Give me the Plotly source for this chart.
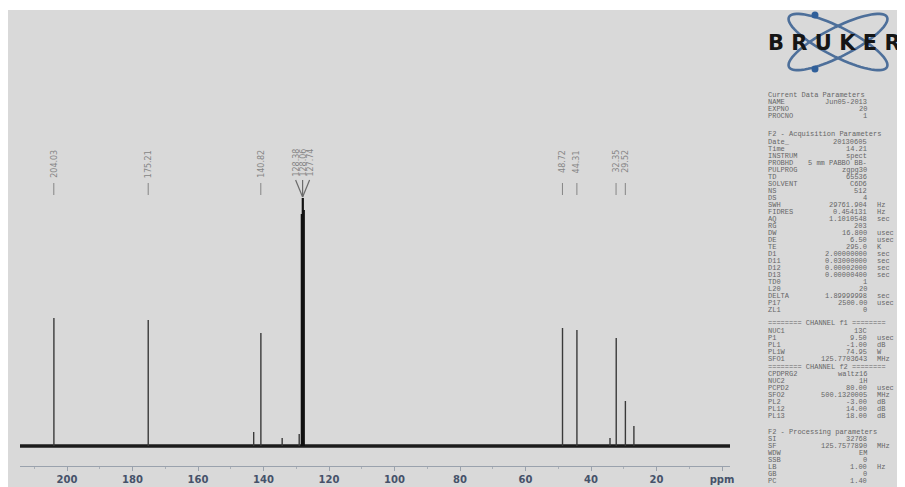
import math
import plotly.graph_objects as go

# browser page places the figure 8px from the top-left corner
PAGE_OFF = 8
WIN_W, WIN_H = 905, 487
W, H = WIN_W - PAGE_OFF, WIN_H - PAGE_OFF

# ---------------- data ----------------
tick_values = [200, 180, 160, 140, 120, 100, 80, 60, 40, 20, 0]
tick_labels = ["200", "180", "160", "140", "120", "100", "80", "60", "40", "20", "ppm"]

peak_ppm = [204.0, 175.2, 143.0, 140.8, 134.3, 129.1, 128.3, 128.0, 127.7,
            48.7, 44.3, 34.2, 32.3, 29.5, 26.9]
peak_height = [128, 126, 14, 113, 8, 12, 232, 248, 236,
               118, 116, 8, 108, 45, 20]

label_ppm = [204.03, 175.21, 140.82, 48.72, 44.31, 32.35, 29.52]
triplet_labels = [128.38, 128.06, 127.74]

acq_rows = [
    ("Date_", "20130605", ""), ("Time", "14.21", ""), ("INSTRUM", "spect", ""),
    ("PROBHD", "5 mm PABBO BB-", ""), ("PULPROG", "zgpg30", ""), ("TD", "65536", ""),
    ("SOLVENT", "C6D6", ""), ("NS", "512", ""), ("DS", "4", ""),
    ("SWH", "29761.904", "Hz"), ("FIDRES", "0.454131", "Hz"), ("AQ", "1.1010548", "sec"),
    ("RG", "203", ""), ("DW", "16.800", "usec"), ("DE", "6.50", "usec"),
    ("TE", "295.0", "K"), ("D1", "2.00000000", "sec"), ("D11", "0.03000000", "sec"),
    ("D12", "0.00002000", "sec"), ("D13", "0.00000400", "sec"), ("TD0", "1", ""),
    ("L20", "20", ""), ("DELTA", "1.89999998", "sec"), ("P17", "2500.00", "usec"), ("ZL1", "0", ""),
]
cur_rows = [("NAME", "Jun05-2013", ""), ("EXPNO", "20", ""), ("PROCNO", "1", "")]
f1_rows = [("NUC1", "13C", ""), ("P1", "9.50", "usec"), ("PL1", "-1.00", "dB"),
           ("PL1W", "74.95", "W"), ("SFO1", "125.7703643", "MHz")]
f2_rows = [("CPDPRG2", "waltz16", ""), ("NUC2", "1H", ""), ("PCPD2", "80.00", "usec"),
           ("SFO2", "500.1320005", "MHz"), ("PL2", "-3.00", "dB"),
           ("PL12", "14.00", "dB"), ("PL13", "18.00", "dB")]
proc_rows = [("SI", "32768", ""), ("SF", "125.7577890", "MHz"), ("WDW", "EM", ""),
             ("SSB", "0", ""), ("LB", "1.00", "Hz"), ("GB", "0", ""), ("PC", "1.40", "")]

# ---------------- layout helpers (window pixels -> paper) ----------------
def px(x):
    return (x - PAGE_OFF) / W

def py(y):
    return 1 - (y - PAGE_OFF) / H

plot_left, plot_right = 20, 730
plot_top, plot_bottom = 10, 466
ppm_per_px = 20 / 65.5
x_left = 200 + (67 - plot_left) * ppm_per_px
x_right = 200 - (plot_right - 67) * ppm_per_px
y_base_px = 446

fig = go.Figure()

# baseline (noise band)
fig.add_trace(go.Scatter(x=[x_left, x_right], y=[0, 0], mode="lines",
                         line=dict(color="#1c1c1c", width=3.5), hoverinfo="skip",
                         showlegend=False))

# peaks
xs, ys, xb, yb = [], [], [], []
for p, h in zip(peak_ppm, peak_height):
    if h > 200:
        xb += [p, p, None]
        yb += [0, h, None]
    else:
        xs += [p, p, None]
        ys += [0, h, None]
fig.add_trace(go.Scatter(x=xs, y=ys, mode="lines", line=dict(color="#3a3a3a", width=1.4),
                         hoverinfo="skip", showlegend=False))
fig.add_trace(go.Scatter(x=xb, y=yb, mode="lines", line=dict(color="#111111", width=2.2),
                         hoverinfo="skip", showlegend=False))

shapes = []
annotations = []

# grey background panel (white strip at top and left)
shapes.append(dict(type="rect", xref="paper", yref="paper", x0=px(7), x1=px(WIN_W + 5),
                   y0=py(WIN_H + 5), y1=py(10), fillcolor="#d9d9d9", line=dict(width=0),
                   layer="below"))

lab_col = "#858585"
# single peak labels
for v in label_ppm:
    annotations.append(dict(x=v, xref="x", y=py(148), yref="paper", yanchor="top",
                            text=f"{v:.2f}", textangle=-90, showarrow=False,
                            font=dict(size=8, color=lab_col, family="DejaVu Sans")))
    shapes.append(dict(type="line", xref="x", yref="paper", x0=v, x1=v,
                       y0=py(183), y1=py(195), line=dict(color=lab_col, width=1)))
# triplet labels with V connector
for i, v in enumerate(triplet_labels):
    off = (i - 1) * 7
    annotations.append(dict(x=triplet_labels[1], xref="x", xshift=off, y=py(147), yref="paper",
                            yanchor="top", text=f"{v:.2f}", textangle=-90, showarrow=False,
                            font=dict(size=8, color=lab_col, family="DejaVu Sans")))
    shapes.append(dict(type="line", xref="x", yref="paper", xsizemode="pixel",
                       xanchor=triplet_labels[1], x0=off, x1=0,
                       y0=py(180), y1=py(197), line=dict(color="#6a6a6a", width=1.2)))

# ---------------- parameter text block ----------------
tcol = "#666666"
tfont = dict(size=7, color=tcol, family="Liberation Mono")
name_x, val_x, unit_x = 766, 869, 875

def add_header(text, y):
    annotations.append(dict(x=px(name_x), y=py(y), xref="paper", yref="paper", text=text,
                            showarrow=False, xanchor="left", yanchor="middle", font=tfont))

def add_rows(rows, y0, step=7):
    for k, (n, v, u) in enumerate(rows):
        y = y0 + k * step
        annotations.append(dict(x=px(name_x), y=py(y), xref="paper", yref="paper", text=n,
                                showarrow=False, xanchor="left", yanchor="middle", font=tfont))
        annotations.append(dict(x=px(val_x), y=py(y), xref="paper", yref="paper", text=v,
                                showarrow=False, xanchor="right", yanchor="middle", font=tfont))
        if u:
            annotations.append(dict(x=px(unit_x), y=py(y), xref="paper", yref="paper", text=u,
                                    showarrow=False, xanchor="left", yanchor="middle", font=tfont))

add_header("Current Data Parameters", 95)
add_rows(cur_rows, 102)
add_header("F2 - Acquisition Parameters", 134)
add_rows(acq_rows, 142)
add_header("======== CHANNEL f1 ========", 323)
add_rows(f1_rows, 331)
add_header("======== CHANNEL f2 ========", 367)
add_rows(f2_rows, 374)
add_header("F2 - Processing parameters", 432)
add_rows(proc_rows, 439)

# ---------------- Bruker logo ----------------
def ellipse_path(cx, cy, a, b, ang_deg, n=72):
    ang = math.radians(ang_deg)
    pts = []
    for k in range(n + 1):
        t = 2 * math.pi * k / n
        ex, ey = a * math.cos(t), b * math.sin(t)
        X = cx + ex * math.cos(ang) - ey * math.sin(ang)
        Y = cy + ex * math.sin(ang) + ey * math.cos(ang)
        pts.append(f"{px(X):.5f},{py(Y):.5f}")
    return "M" + " L".join(pts) + " Z"

logo_blue = "#4d6f9a"
for ang in (27, -27):
    shapes.append(dict(type="path", xref="paper", yref="paper",
                       path=ellipse_path(838, 42, 55, 14.5, ang),
                       line=dict(color=logo_blue, width=2.6)))
for (dx, dy) in ((815, 15), (815, 69)):
    shapes.append(dict(type="circle", xref="paper", yref="paper",
                       x0=px(dx - 3.5), x1=px(dx + 3.5), y0=py(dy + 3.5), y1=py(dy - 3.5),
                       fillcolor="#2f5f9a", line=dict(width=0)))
annotations.append(dict(x=px(766), y=py(43), xref="paper", yref="paper", text="B R U K E R",
                        showarrow=False, xanchor="left", yanchor="middle",
                        font=dict(size=21, color="#151515", family="DejaVu Sans", weight="bold")))

fig.update_layout(
    width=W, height=H,
    margin=dict(l=0, r=0, t=0, b=0),
    paper_bgcolor="white",
    plot_bgcolor="rgba(0,0,0,0)",
    showlegend=False,
    shapes=shapes,
    annotations=annotations,
    xaxis=dict(domain=[px(plot_left), px(plot_right)], range=[x_left, x_right],
               tickvals=tick_values, ticktext=tick_labels, showgrid=False, zeroline=False,
               showline=True, linecolor="#9aa2ad", linewidth=1,
               ticks="outside", ticklen=4, tickcolor="#9aa2ad",
               minor=dict(dtick=10, ticks="outside", ticklen=2, tickcolor="#aab0b8"),
               tickfont=dict(size=10, color="#46526a", family="DejaVu Sans", weight="bold"),
               automargin=False, fixedrange=True),
    yaxis=dict(domain=[py(plot_bottom), py(plot_top)],
               range=[-(plot_bottom - y_base_px), y_base_px - plot_top],
               visible=False, automargin=False, fixedrange=True),
)

fig.write_html("out.html")
